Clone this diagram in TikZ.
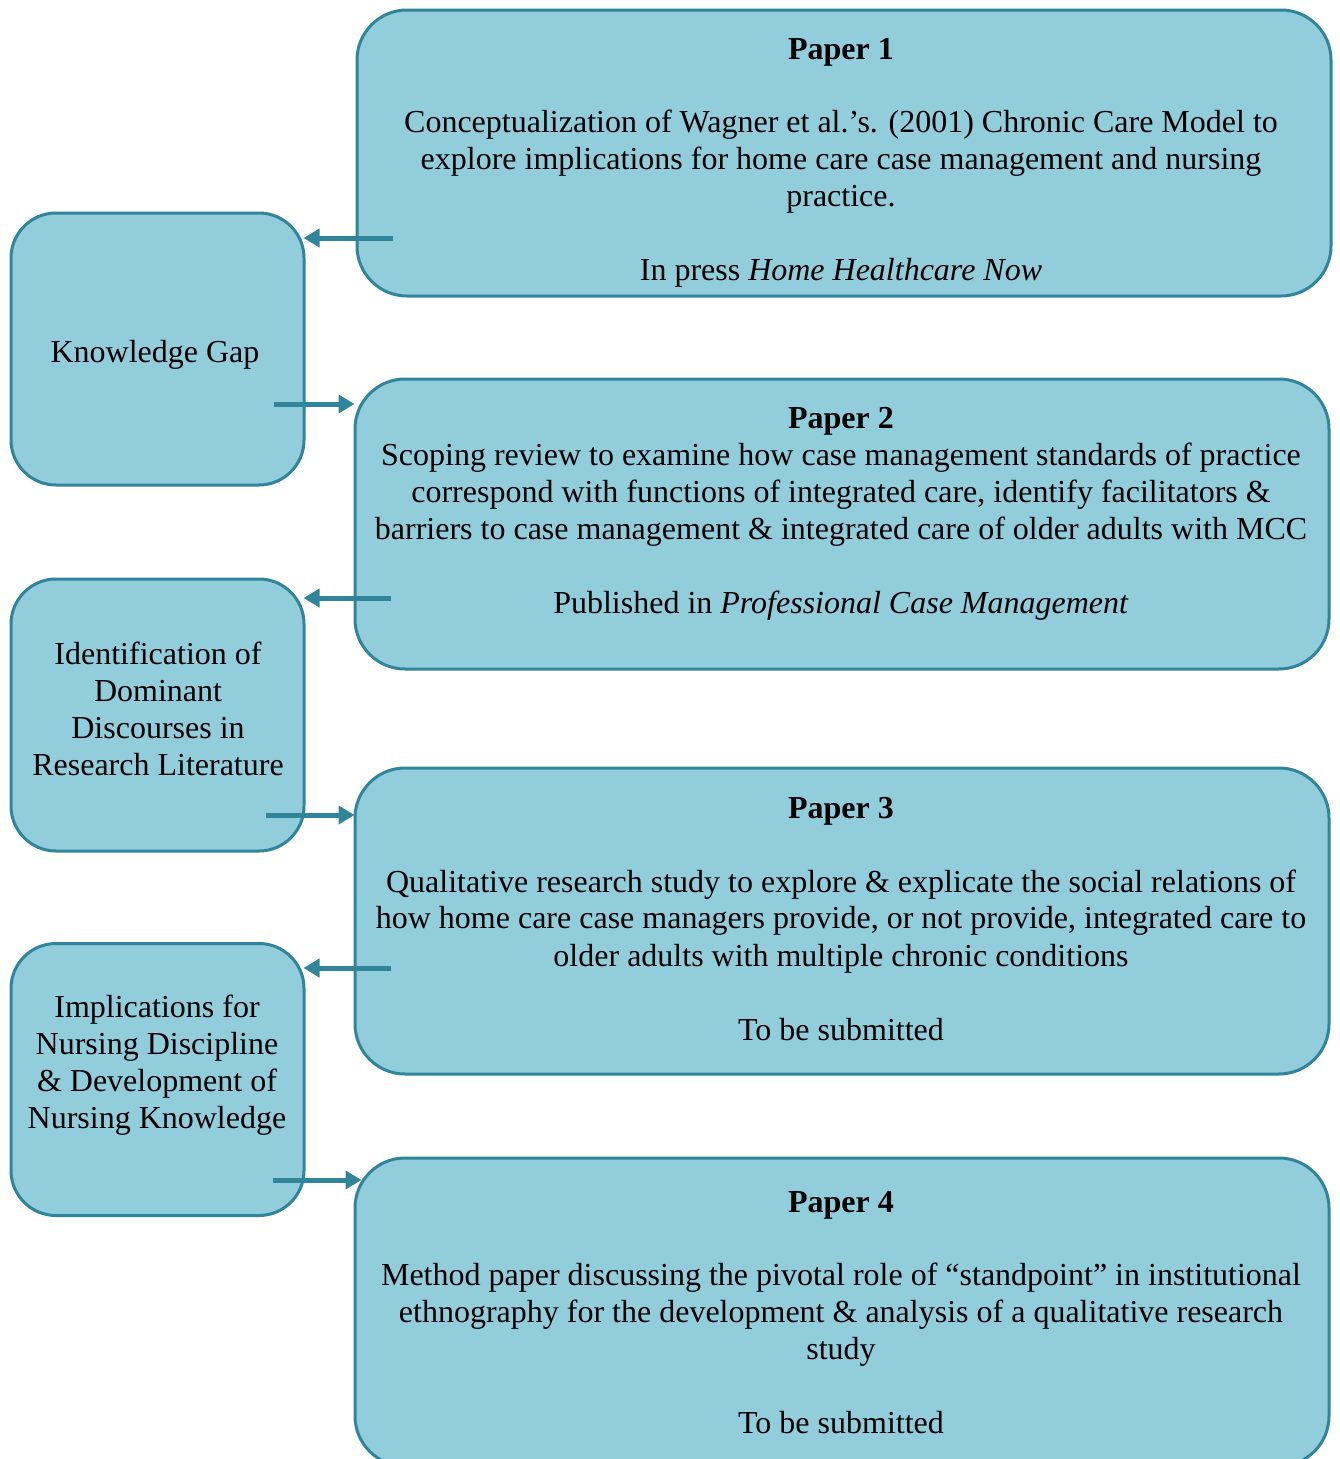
\documentclass[tikz,border=0pt]{standalone}
\usepackage{fontspec}
\setmainfont{Liberation Serif}
\usetikzlibrary{arrows.meta}
\definecolor{boxfill}{RGB}{146,205,220}
\definecolor{boxline}{RGB}{49,133,155}
\begin{document}
\begin{tikzpicture}[x=1pt,y=-1pt,
  box/.style={draw=boxline, fill=boxfill, line width=3pt, rounded corners=50pt, inner sep=0pt},
  bigbox/.style={box, minimum width=974pt},
  smallbox/.style={box, rounded corners=45pt, minimum width=293pt, minimum height=272pt},
  txt/.style={anchor=base, inner sep=0pt, font=\fontsize{32}{37}\selectfont},
  arr/.style={draw=boxline, line width=5pt, -{Triangle[length=16pt,width=18pt]}}]
\useasboundingbox (0,0) rectangle (1339,1459);
\clip (0,0) rectangle (1339,1459);
% boxes
\node[bigbox, minimum height=286pt] (p1) at (844,153) {};
\node[bigbox, minimum height=290pt] (p2) at (842,524) {};
\node[bigbox, minimum height=306pt] (p3) at (842,921) {};
\node[bigbox, minimum height=308pt] (p4) at (842,1312) {};
\node[smallbox] (kg) at (157.5,349) {};
\node[smallbox] (id) at (157.5,715) {};
\node[smallbox] (im) at (157.5,1079.5) {};
% paper 1 text
\node[txt] (p1a) at (841,59) {\textbf{Paper 1}};
\node[txt] (p1b) at (841,132) {Conceptualization of Wagner et al.’s. (2001) Chronic Care Model to};
\node[txt] (p1c) at (841,169) {explore implications for home care case management and nursing};
\node[txt] (p1d) at (841,206) {practice.};
\node[txt] (p1e) at (841,280) {In press \textit{Home Healthcare Now}};
% paper 2 text
\node[txt] (p2a) at (841,428) {\textbf{Paper 2}};
\node[txt] (p2b) at (841,465) {Scoping review to examine how case management standards of practice};
\node[txt] (p2c) at (841,502) {correspond with functions of integrated care, identify facilitators \&};
\node[txt] (p2d) at (841,539) {barriers to case management \& integrated care of older adults with MCC};
\node[txt] (p2e) at (841,613) {Published in \textit{Professional Case Management}};
% paper 3 text
\node[txt] (p3a) at (841,818) {\textbf{Paper 3}};
\node[txt] (p3b) at (841,892) {Qualitative research study to explore \& explicate the social relations of};
\node[txt] (p3c) at (841,928) {how home care case managers provide, or not provide, integrated care to};
\node[txt] (p3d) at (841,966) {older adults with multiple chronic conditions};
\node[txt] (p3e) at (841,1040) {To be submitted};
% paper 4 text
\node[txt] (p4a) at (841,1212) {\textbf{Paper 4}};
\node[txt] (p4b) at (841,1285) {Method paper discussing the pivotal role of “standpoint” in institutional};
\node[txt] (p4c) at (841,1322) {ethnography for the development \& analysis of a qualitative research};
\node[txt] (p4d) at (841,1359) {study};
\node[txt] (p4e) at (841,1433) {To be submitted};
% left texts
\node[txt] (kga) at (155,362) {Knowledge Gap};
\node[txt] (ida) at (158,664) {Identification of};
\node[txt] (idb) at (158,701) {Dominant};
\node[txt] (idc) at (158,738) {Discourses in};
\node[txt] (idd) at (158,775) {Research Literature};
\node[txt] (ima) at (157,1017) {Implications for};
\node[txt] (imb) at (157,1054) {Nursing Discipline};
\node[txt] (imc) at (157,1091) {\& Development of};
\node[txt] (imd) at (157,1128) {Nursing Knowledge};
% arrows
\coordinate (s1) at (393,238);
\coordinate (s2) at (274,404);
\coordinate (s3) at (391,598);
\coordinate (s4) at (266,815);
\coordinate (s5) at (391,968);
\coordinate (s6) at (273,1180);
\draw[arr] (s1) -- ([xshift=-2pt]s1 -| kg.east);
\draw[arr] (s2) -- ([xshift=1pt]s2 -| p2.west);
\draw[arr] (s3) -- ([xshift=-2pt]s3 -| id.east);
\draw[arr] (s4) -- ([xshift=1pt]s4 -| p3.west);
\draw[arr] (s5) -- ([xshift=-2pt]s5 -| im.east);
\draw[arr] (s6) -- ([xshift=8pt]s6 -| p4.west);
\end{tikzpicture}
\end{document}
